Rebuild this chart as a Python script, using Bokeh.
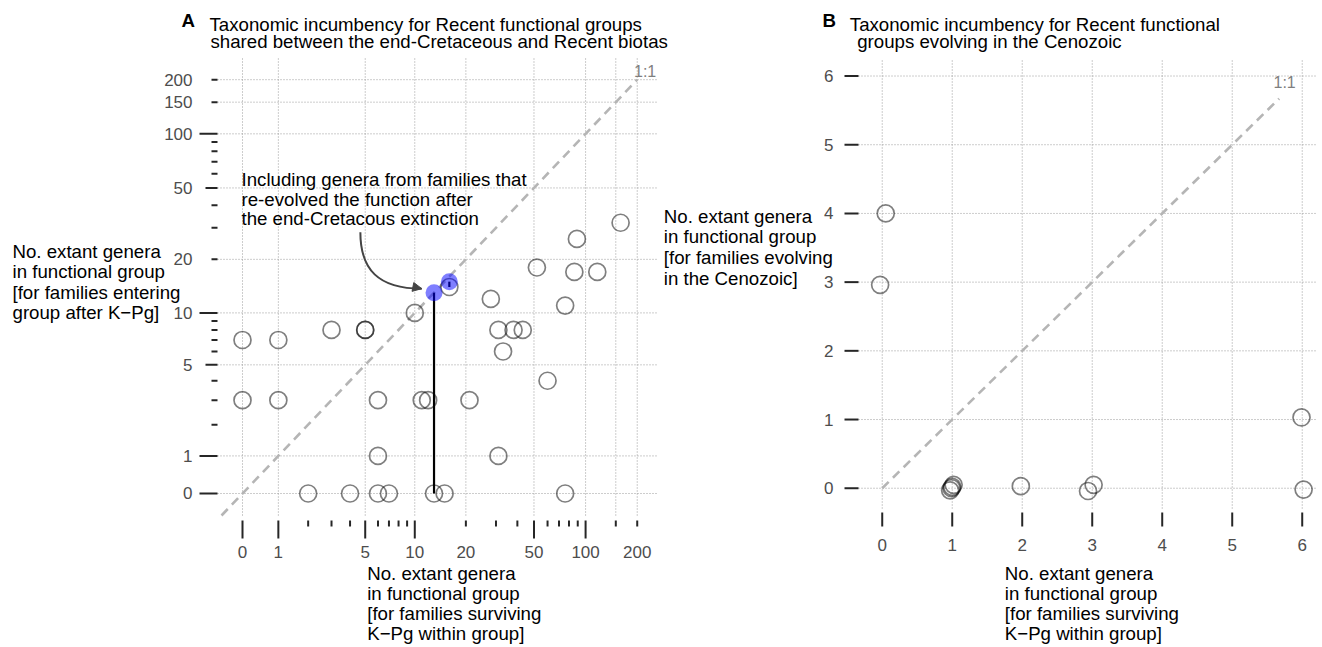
import numpy as np
from bokeh.plotting import figure
from bokeh.models import Range1d, ColumnDataSource, Arrow, NormalHead
from bokeh.embed import file_html
from bokeh.resources import INLINE
from bokeh.core.properties import value

FONT = value("Liberation Sans")
W, H = 1322, 647

# ---------------- data: panel A (asinh(x/2) scaled axes) ----------------
a_open_x = [0, 1, 3, 5, 5, 31, 38, 43, 10, 33, 28, 76, 52, 86, 117, 89, 160, 16,
            0, 1, 6, 11, 12, 21, 60, 6, 31, 2, 4, 6, 7, 13, 15, 76]
a_open_y = [7, 7, 8, 8, 8, 8, 8, 8, 10, 6, 12, 11, 18, 17, 17, 26, 32, 14,
            3, 3, 3, 3, 3, 3, 4, 1, 1, 0, 0, 0, 0, 0, 0, 0]
a_fill_x = [13, 16]
a_fill_y = [13, 15]
a_link_x = [13, 16]
a_link_y0 = [0, 14]
a_link_y1 = [13, 15]
a_xlabels = [0, 1, 5, 10, 20, 50, 100, 200]
a_ylabels = [0, 1, 5, 10, 20, 50, 100, 150, 200]
a_grid = [0, 1, 5, 10, 20, 50, 100, 150, 200]
a_long = [0, 1, 10, 100]
a_medium = [5, 50]
a_short = [2, 3, 4, 6, 7, 8, 9, 20, 30, 40, 60, 70, 80, 90, 150, 200]
a_diag_end = 200
# annotation arrow (raw data units)
a_arrow_start = (4.66, 28.3)
a_arrow_c1 = (4.66, 17.6)
a_arrow_c2 = (6.0, 13.7)
a_arrow_end = (11.0, 13.7)

# ---------------- data: panel B (linear axes) ----------------
b_x = [0.05, -0.03, 0.97, 1.00, 1.02, 0.99, 1.98, 2.94, 3.02, 5.99, 6.02]
b_y = [4.00, 2.96, -0.03, 0.02, 0.05, 0.00, 0.03, -0.04, 0.05, 1.03, -0.02]
b_ticks = [0, 1, 2, 3, 4, 5, 6]
b_diag = [0, 5.67]


def tr(v):
    return np.arcsinh(np.asarray(v, dtype=float) / 2.0).tolist()


# One canvas in page pixels; each panel gets its own data ranges mapped onto
# its frame rectangle (left, top, right, bottom in page pixels).
p = figure(width=W, height=H, output_backend="svg", toolbar_location=None,
           x_range=Range1d(0, W), y_range=Range1d(H, 0),
           x_axis_type=None, y_axis_type=None,
           min_border_left=0, min_border_right=0, min_border_top=0, min_border_bottom=0,
           background_fill_color="white", border_fill_color="white")
p.outline_line_color = None


def add_panel(name, frame, xr, yr):
    l, t, r, b = frame
    kx = (xr[1] - xr[0]) / (r - l)
    ky = (yr[1] - yr[0]) / (b - t)
    p.extra_x_ranges[name + "x"] = Range1d(xr[0] - l * kx, xr[1] + (W - r) * kx)
    p.extra_y_ranges[name + "y"] = Range1d(yr[0] - (H - b) * ky, yr[1] + t * ky)
    return name + "x", name + "y"


GRID = dict(line_color="#9A9A9A", line_dash="1 2", line_width=1)
TICK = dict(line_color="#262626", line_width=2)
TICK_COLOR = "#4D4D4D"
TICK_SIZE = "17px"


def txt(xs, ys, texts, size="18.67px", color="#000000", align="left",
        style="normal", xr="default", yr="default"):
    p.text(x=xs, y=ys, text=texts, text_font=FONT, text_font_size=value(size),
           text_color=color, text_align=align, text_baseline="middle",
           text_font_style=style, x_range_name=xr, y_range_name=yr)


# ================= Panel A =================
A_FRAME = (217, 58, 657, 515)
A_XR = (-0.3356, 5.5705)
A_YR = (-0.2817, 5.5698)
axn, ayn = add_panel("a", A_FRAME, A_XR, A_YR)

g = tr(a_grid)
p.segment(x0=g, y0=[A_YR[0]] * len(g), x1=g, y1=[A_YR[1]] * len(g),
          x_range_name=axn, y_range_name=ayn, **GRID)
p.segment(x0=[A_XR[0]] * len(g), y0=g, x1=[A_XR[1]] * len(g), y1=g,
          x_range_name=axn, y_range_name=ayn, **GRID)

# ticks (tick lengths in pixels, positions through panel scales)
for vals, ln in ((a_long, 18), (a_medium, 18), (a_short, 6)):
    tv = tr(vals)
    n = len(tv)
    p.segment(x0=tv, y0=[520] * n, x1=tv, y1=[520 + ln] * n,
              x_range_name=axn, **TICK)
for vals, ln in ((a_long, 18), (a_medium, 12), (a_short, 6)):
    tv = tr(vals)
    n = len(tv)
    p.segment(x0=[217 - ln] * n, y0=tv, x1=[217] * n, y1=tv,
              y_range_name=ayn, **TICK)

txt(tr(a_xlabels), [551.5] * len(a_xlabels), [str(v) for v in a_xlabels],
    size=TICK_SIZE, color=TICK_COLOR, align="center", xr=axn)
txt([192] * len(a_ylabels), tr(a_ylabels), [str(v) for v in a_ylabels],
    size=TICK_SIZE, color=TICK_COLOR, align="right", yr=ayn)

# 1:1 line, clipped at frame bottom
d0 = max(A_XR[0], A_YR[0])
d1 = tr([a_diag_end])[0]
p.line([d0, d1], [d0, d1], line_color="#B5B5B5", line_width=2.6, line_dash="9 6",
       x_range_name=axn, y_range_name=ayn)

p.segment(x0=tr(a_link_x), y0=tr(a_link_y0), x1=tr(a_link_x), y1=tr(a_link_y1),
          line_color="black", line_width=2.2, x_range_name=axn, y_range_name=ayn)
srcA = ColumnDataSource(dict(x=tr(a_open_x), y=tr(a_open_y)))
p.scatter("x", "y", source=srcA, size=17, fill_color=None, line_color="black",
          line_alpha=0.5, line_width=1.7, x_range_name=axn, y_range_name=ayn)
srcAf = ColumnDataSource(dict(x=tr(a_fill_x), y=tr(a_fill_y)))
p.scatter("x", "y", source=srcAf, size=17, fill_color="#0000FF", fill_alpha=0.5,
          line_color=None, x_range_name=axn, y_range_name=ayn)

# annotation arrow
(bx0, bx1, bx2, bx3) = tr([a_arrow_start[0], a_arrow_c1[0], a_arrow_c2[0], a_arrow_end[0]])
(by0, by1, by2, by3) = tr([a_arrow_start[1], a_arrow_c1[1], a_arrow_c2[1], a_arrow_end[1]])
p.bezier(x0=[bx0], y0=[by0], x1=[bx3], y1=[by3], cx0=[bx1], cy0=[by1],
         cx1=[bx2], cy1=[by2], line_color="#444444", line_width=2,
         x_range_name=axn, y_range_name=ayn)
p.add_layout(Arrow(end=NormalHead(size=9, fill_color="#444444", line_color="#444444"),
                   x_start=bx3 - 0.08, y_start=by3 + 0.015, x_end=bx3, y_end=by3,
                   line_color="#444444", line_width=2,
                   x_range_name=axn, y_range_name=ayn))
txt([241] * 3, [178.8, 198.5, 218.2],
    ["Including genera from families that", "re-evolved the function after",
     "the end-Cretacous extinction"])

txt([633.5], [70.5], ["1:1"], size="16px", color="#7F7F7F")

txt([181], [20], ["A"], style="bold")
txt([209, 210], [23.5, 40.5],
    ["Taxonomic incumbency for Recent functional groups",
     "shared between the end-Cretaceous and Recent biotas"])
txt([12] * 4, [250.5 + 20.6 * i for i in range(4)],
    ["No. extant genera", "in functional group", "[for families entering",
     "group after K\u2212Pg]"])
txt([366.7] * 4, [573 + 20 * i for i in range(4)],
    ["No. extant genera", "in functional group", "[for families surviving",
     "K\u2212Pg within group]"])

# ================= Panel B =================
B_FRAME = (858, 58, 1316, 508)
B_XR = (-0.339, 6.204)
B_YR = (-0.295, 6.255)
bxn, byn = add_panel("b", B_FRAME, B_XR, B_YR)

nb = len(b_ticks)
p.segment(x0=b_ticks, y0=[B_YR[0]] * nb, x1=b_ticks, y1=[B_YR[1]] * nb,
          x_range_name=bxn, y_range_name=byn, **GRID)
p.segment(x0=[B_XR[0]] * nb, y0=b_ticks, x1=[B_XR[1]] * nb, y1=b_ticks,
          x_range_name=bxn, y_range_name=byn, **GRID)
p.segment(x0=b_ticks, y0=[512] * nb, x1=b_ticks, y1=[526] * nb,
          x_range_name=bxn, **TICK)
p.segment(x0=[844] * nb, y0=b_ticks, x1=[858] * nb, y1=b_ticks,
          y_range_name=byn, **TICK)
txt(b_ticks, [544.3] * nb, [str(v) for v in b_ticks], size=TICK_SIZE,
    color=TICK_COLOR, align="center", xr=bxn)
txt([833] * nb, b_ticks, [str(v) for v in b_ticks], size=TICK_SIZE,
    color=TICK_COLOR, align="right", yr=byn)

p.line(b_diag, b_diag, line_color="#B5B5B5", line_width=2.6, line_dash="9 6",
       x_range_name=bxn, y_range_name=byn)
srcB = ColumnDataSource(dict(x=b_x, y=b_y))
p.scatter("x", "y", source=srcB, size=17, fill_color=None, line_color="black",
          line_alpha=0.5, line_width=1.7, x_range_name=bxn, y_range_name=byn)

txt([1273], [81.5], ["1:1"], size="16px", color="#7F7F7F")
txt([822], [20], ["B"], style="bold")
txt([849.3, 856.7], [23.5, 40.5],
    ["Taxonomic incumbency for Recent functional", "groups evolving in the Cenozoic"])
txt([663.3] * 4, [215.5 + 20.7 * i for i in range(4)],
    ["No. extant genera", "in functional group", "[for families evolving",
     "in the Cenozoic]"])
txt([1004.3] * 4, [573 + 20 * i for i in range(4)],
    ["No. extant genera", "in functional group", "[for families surviving",
     "K\u2212Pg within group]"])

open("out.html", "w").write(file_html(p, INLINE))
